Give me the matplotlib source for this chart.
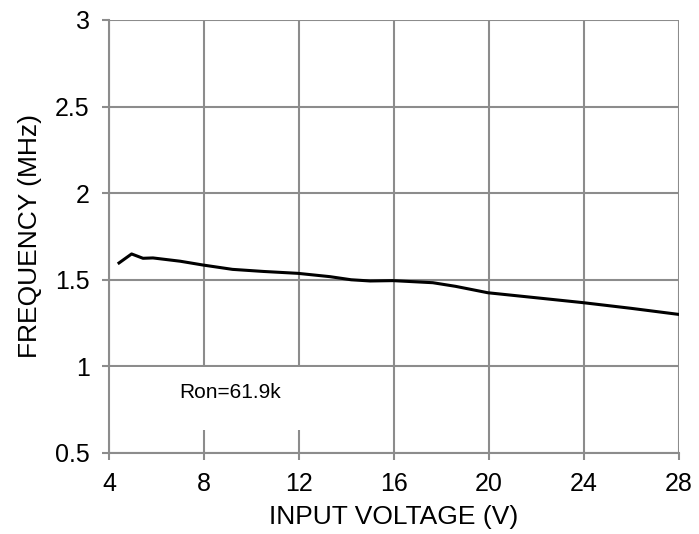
import matplotlib.pyplot as plt
from matplotlib.patches import Rectangle

plt.rcParams['font.family'] = ['Liberation Sans', 'DejaVu Sans']

# curve
vin = [4.42, 4.95, 5.43, 5.85, 7.0, 7.96, 9.2, 10.5, 11.96, 13.3, 14.2, 15.0, 15.96, 17.64, 18.6, 19.96, 22.0, 23.96, 26.0, 28.0]
freq = [1.597, 1.649, 1.624, 1.626, 1.607, 1.585, 1.56, 1.548, 1.537, 1.518, 1.500, 1.493, 1.495, 1.483, 1.462, 1.425, 1.396, 1.368, 1.335, 1.30]

xticks = [4, 8, 12, 16, 20, 24, 28]
yticks = [0.5, 1, 1.5, 2, 2.5, 3]
ytick_labels = ['0.5', '1', '1.5', '2', '2.5', '3']

fig = plt.figure(figsize=(6.99, 5.34), dpi=100)
ax = fig.add_axes([0.156, 0.1517, 0.815, 0.811])

grey = '#8c8c8c'
ax.set_axisbelow(True)
ax.grid(True, color=grey, linewidth=1.5)

# white box behind the annotation, hides the grid there
ax.add_patch(Rectangle((4.0, 0.633), 11.9, 0.364, facecolor='white', edgecolor='none', zorder=1))
ax.text(9.1, 0.852, 'Ron=61.9k', fontsize=15, ha='center', va='center', zorder=3)

ax.plot(vin, freq, color='black', linewidth=2.2, zorder=2)

ax.set_xlim(4, 28)
ax.set_ylim(0.5, 3)
ax.set_xticks(xticks)
ax.set_yticks(yticks)
ax.set_yticklabels(ytick_labels)
ax.tick_params(length=5, width=1.5, color=grey, labelsize=18)
ax.tick_params(axis='x', pad=8.5)
ax.tick_params(axis='y', pad=9)

for side in ['top', 'right']:
    ax.spines[side].set_visible(False)
for side in ['left', 'bottom']:
    ax.spines[side].set_color(grey)
    ax.spines[side].set_linewidth(1.5)

ax.set_xlabel('INPUT VOLTAGE (V)', fontsize=19, labelpad=7)
ax.set_ylabel('FREQUENCY (MHz)', fontsize=19, labelpad=9)

fig.savefig('out.png', dpi=100)
